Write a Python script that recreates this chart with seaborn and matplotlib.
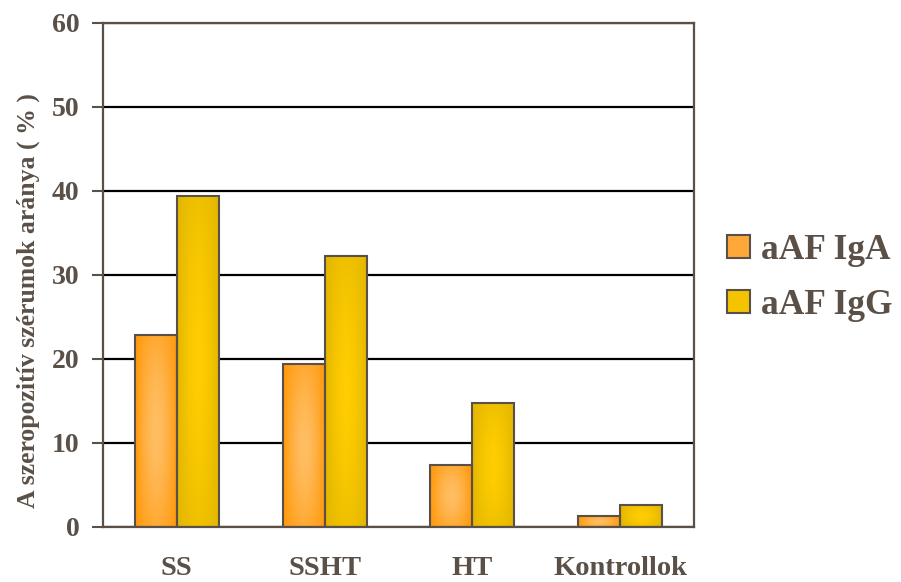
import numpy as np
import pandas as pd
import matplotlib
matplotlib.use("Agg")
import matplotlib.pyplot as plt
import seaborn as sns
from matplotlib.patches import Patch

# Data
categories = ["SS", "SSHT", "HT", "Kontrollok"]
series = ["aAF IgA", "aAF IgG"]
iga = [22.9, 19.4, 7.4, 1.3]
igg = [39.4, 32.3, 14.8, 2.6]
y_ticks = [0, 10, 20, 30, 40, 50, 60]
y_label = "A szeropozitív szérumok aránya ( % )"

# Styling
ink = "#5a5048"
edge_cols = {"aAF IgA": np.array([255, 152, 8]) / 255,
             "aAF IgG": np.array([226, 182, 0]) / 255}
center_cols = {"aAF IgA": np.array([255, 190, 100]) / 255,
               "aAF IgG": np.array([255, 205, 0]) / 255}
legend_cols = {"aAF IgA": "#ffa83a", "aAF IgG": "#f4c400"}

sns.set_theme(style="white")
plt.rcParams["font.family"] = ["Liberation Serif", "DejaVu Serif"]
plt.rcParams["font.weight"] = "bold"

df = pd.DataFrame({
    "cat": categories * 2,
    "series": [series[0]] * len(categories) + [series[1]] * len(categories),
    "val": iga + igg,
})

fig = plt.figure(figsize=(9.01, 5.82), dpi=100)
ax = fig.add_axes([103 / 901, 1 - 527 / 582, (694 - 103) / 901, (527 - 23) / 582])

sns.barplot(data=df, x="cat", y="val", hue="series", order=categories,
            hue_order=series, palette=[legend_cols[s] for s in series],
            width=0.57, saturation=1, edgecolor=ink, linewidth=1.5,
            legend=False, ax=ax)


def gradient(c_edge, c_mid, w=64, h=160):
    xx = np.linspace(-1, 1, w)
    yy = np.linspace(-1, 1, h)
    X, Y = np.meshgrid(xx, yy)
    t = np.clip(1 - np.abs(X) ** 1.7, 0, 1) * (1 - 0.55 * np.abs(Y) ** 1.6)
    return c_edge + (c_mid - c_edge) * t[..., None]


# Shaded fill for every bar, clipped to the bar outline
n = len(categories)
for i, patch in enumerate(ax.patches[: 2 * n]):
    s = series[i // n]
    x0, y0 = patch.get_x(), patch.get_y()
    w, h = patch.get_width(), patch.get_height()
    if h <= 0:
        continue
    im = ax.imshow(gradient(edge_cols[s], center_cols[s]),
                   extent=(x0, x0 + w, y0, y0 + h), aspect="auto",
                   interpolation="bilinear", zorder=patch.get_zorder() - 0.01)
    im.set_clip_path(patch)
    patch.set_facecolor("none")

ax.set_xlim(-0.5, len(categories) - 0.5)
ax.set_ylim(0, 60)
ax.set_yticks(y_ticks)
ax.set_yticklabels([str(v) for v in y_ticks], fontsize=20, color=ink,
                   fontweight="bold")

ax.set_xticks(np.arange(-0.5, len(categories), 1))
ax.set_xticklabels([])
ax.set_xticks(range(len(categories)), minor=True)
ax.set_xticklabels(categories, minor=True, fontsize=20.5, color=ink,
                   fontweight="bold")
ax.tick_params(axis="x", which="minor", length=0, pad=21)
ax.tick_params(axis="x", which="major", length=8, width=1.5, color=ink,
               direction="out")
ax.tick_params(axis="y", length=8, width=1.5, color=ink, direction="out",
               pad=9, left=True)

ax.set_xlabel("")
ax.set_ylabel(y_label, fontsize=18.5, color=ink, fontweight="bold")
ax.yaxis.set_label_coords(-0.107, 0.45)

ax.set_axisbelow(True)
ax.yaxis.grid(True, color="black", linewidth=1.6)
ax.xaxis.grid(False)
for sp in ax.spines.values():
    sp.set_visible(True)
    sp.set_color(ink)
    sp.set_linewidth(1.6)

handles = [Patch(facecolor=legend_cols[s], edgecolor=ink, linewidth=1.5)
           for s in series]
leg = fig.legend(handles, series, loc="center left",
                 bbox_to_anchor=(727 / 901, 1 - 278 / 582), frameon=False,
                 prop={"size": 25.5, "weight": "bold"},
                 handlelength=0.65, handleheight=0.65, handletextpad=0.3,
                 labelspacing=0.62, borderpad=0, borderaxespad=0)
for t in leg.get_texts():
    t.set_color(ink)

fig.savefig("out.png", dpi=100)
